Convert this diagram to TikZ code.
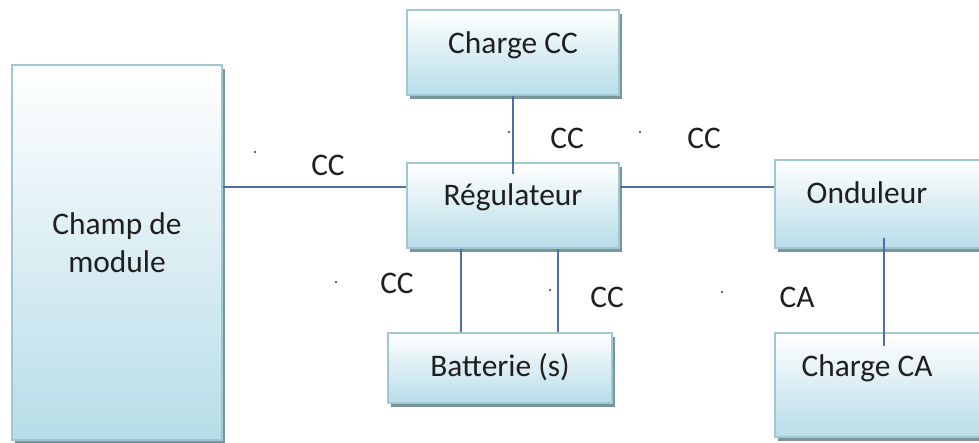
\documentclass[tikz,border=0pt]{standalone}
\usepackage{fontspec}
\setmainfont{Carlito}
\usetikzlibrary{shadows}

\definecolor{boxline}{RGB}{160,200,212}
\definecolor{boxfill}{RGB}{183,221,232}
\definecolor{boxshadow}{RGB}{100,130,140}
\definecolor{wirecol}{RGB}{80,110,165}

\tikzset{
  box/.style={rectangle, draw=boxline, line width=0.6pt,
    top color=white, bottom color=boxfill,
    drop shadow={shadow xshift=1.6pt, shadow yshift=-2pt,
      fill=boxshadow, opacity=0.85}},
  txt/.style={font=\fontsize{15.7}{19}\selectfont, text=black!88},
  wire/.style={draw=wirecol, line width=0.65pt}
}

\begin{document}
\begin{tikzpicture}[x=0.5pt,y=-0.5pt,>=latex]
  \useasboundingbox (0,0) rectangle (979,443);
  % Boxes.
  \node[box, minimum width=105pt, minimum height=187.5pt,
    label={[txt,yshift=4.75pt,align=center]center:Champ de\\module}]
    (champ) at (117,252.5) {};
  \node[box, minimum width=106pt, minimum height=42.5pt,
    label={[txt,yshift=3.75pt]center:Charge CC}] (chcc) at (513,52.5) {};
  \node[box, minimum width=106pt, minimum height=42.5pt,
    label={[txt,yshift=4.25pt]center:Régulateur}] (reg) at (513,205.5) {};
  \node[box, minimum width=112pt, minimum height=35pt,
    label={[txt,yshift=0.5pt]center:Batterie (s)}] (bat) at (500,368) {};
  \node[box, minimum width=112.5pt, minimum height=44pt,
    label={[txt,xshift=-10.25pt,yshift=5.5pt]center:Onduleur}]
    (ond) at (887.5,204) {};
  \node[box, minimum width=112.5pt, minimum height=52pt,
    label={[txt,xshift=-10.25pt,yshift=8.5pt]center:Charge CA}]
    (chca) at (887.5,385) {};
  % Wires.
  \coordinate (dcbus) at ([yshift=9.25pt]reg.west);
  \draw[wire] (champ.east |- dcbus) -- (dcbus);
  \draw[wire] (reg.east |- dcbus) -- (ond.west |- dcbus);
  \draw[wire] (chcc.south) -- ([yshift=-6pt]reg.north);
  \draw[wire] ([xshift=-26pt]reg.south) -- ([xshift=-26pt]reg.south |- bat.north);
  \draw[wire] ([xshift=22.5pt]reg.south) -- ([xshift=22.5pt]reg.south |- bat.north);
  \draw[wire] ([xshift=-1.75pt,yshift=5.5pt]ond.south)
    -- ([xshift=-1.75pt,yshift=-7pt]chca.north);
  % Labels.
  \node[txt] (l1) at (328,165) {CC};
  \node[txt] (l2) at (567,138) {CC};
  \node[txt] (l3) at (704,138) {CC};
  \node[txt] (l4) at (397,283) {CC};
  \node[txt] (l5) at (607,297) {CC};
  \node[txt] (l6) at (797,297) {CA};
  % Specks.
  \foreach \x/\y in {255/152,509/132,640/132,336/282,550/290,722/292}
    \fill[black!80] (\x,\y) circle (0.6pt);
\end{tikzpicture}
\end{document}
